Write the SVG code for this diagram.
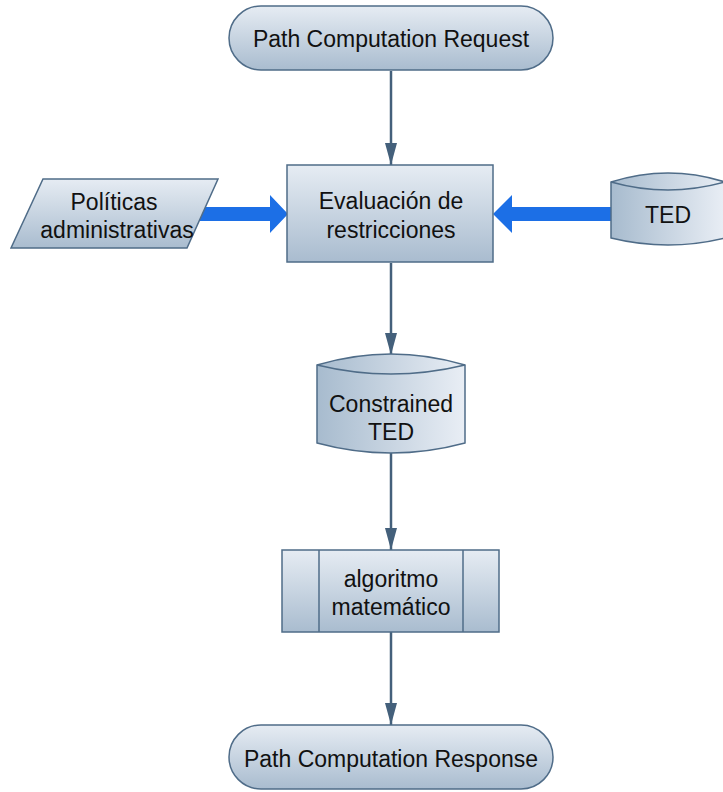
<svg xmlns="http://www.w3.org/2000/svg" width="723" height="792" viewBox="0 0 723 792">
<defs>
<linearGradient id="gv" x1="0" y1="0" x2="0" y2="1">
<stop offset="0" stop-color="#e6ecf3"/>
<stop offset="1" stop-color="#a9bccf"/>
</linearGradient>
<linearGradient id="gh" x1="0" y1="0" x2="1" y2="0">
<stop offset="0" stop-color="#a7bbce"/>
<stop offset="1" stop-color="#e9eef5"/>
</linearGradient>
<marker id="ah" viewBox="0 0 22 12" refX="22" refY="6" markerWidth="22" markerHeight="12" markerUnits="userSpaceOnUse" orient="auto">
<path d="M0,0 L22,6 L0,12 Z" fill="#44607b"/>
</marker>
<style>
.sh{stroke:#4f6c88;stroke-width:1.5}
.t{font-family:"Liberation Sans",Arial,sans-serif;font-size:23px;fill:#111;text-anchor:middle}
.c{stroke:#44607b;stroke-width:2.5;fill:none}
.b{fill:#1c6fe6}
</style>
</defs>
<g id="connectors">
<line class="c" x1="391" y1="71" x2="391" y2="165" marker-end="url(#ah)"/>
<line class="c" x1="391" y1="263" x2="391" y2="355" marker-end="url(#ah)"/>
<line class="c" x1="391" y1="453" x2="391" y2="550" marker-end="url(#ah)"/>
<line class="c" x1="391" y1="632" x2="391" y2="725" marker-end="url(#ah)"/>
<path class="b" d="M195,207 L270,207 L270,195 L288,214 L270,233 L270,221 L195,221 Z"/>
<path class="b" d="M612,207 L512,207 L512,195 L493,214 L512,233 L512,221 L612,221 Z"/>
</g>
<g id="request">
<rect class="sh" x="229" y="6" width="324" height="64" rx="32" fill="url(#gv)"/>
<text class="t" x="391" y="47">Path Computation Request</text>
</g>
<g id="politicas">
<path class="sh" d="M43,179 L218,179 L187,248 L11,248 Z" fill="url(#gv)"/>
<text class="t" x="114" y="210">Políticas</text>
<text class="t" x="117" y="238">administrativas</text>
</g>
<g id="evaluacion">
<rect class="sh" x="287" y="165" width="206" height="97" fill="url(#gv)"/>
<text class="t" x="391" y="209">Evaluación de</text>
<text class="t" x="391" y="238">restricciones</text>
</g>
<g id="ted">
<path class="sh" d="M611,182 Q668,164 725,182 L725,238 Q668,252 611,238 Z" fill="url(#gh)"/>
<path class="sh" d="M611,182 Q668,198 725,182" fill="none"/>
<text class="t" x="668" y="223">TED</text>
</g>
<g id="constrained">
<path class="sh" d="M317,365 Q391,343 465,365 L465,443 Q391,463 317,443 Z" fill="url(#gh)"/>
<path class="sh" d="M317,365 Q391,383 465,365" fill="none"/>
<text class="t" x="391" y="412">Constrained</text>
<text class="t" x="391" y="440">TED</text>
</g>
<g id="algoritmo">
<rect class="sh" x="282" y="550" width="217" height="82" fill="url(#gv)"/>
<line class="sh" x1="319" y1="550" x2="319" y2="632"/>
<line class="sh" x1="463" y1="550" x2="463" y2="632"/>
<text class="t" x="391" y="587">algoritmo</text>
<text class="t" x="391" y="615">matemático</text>
</g>
<g id="response">
<rect class="sh" x="229" y="725" width="324" height="64" rx="32" fill="url(#gv)"/>
<text class="t" x="391" y="767">Path Computation Response</text>
</g>
</svg>
